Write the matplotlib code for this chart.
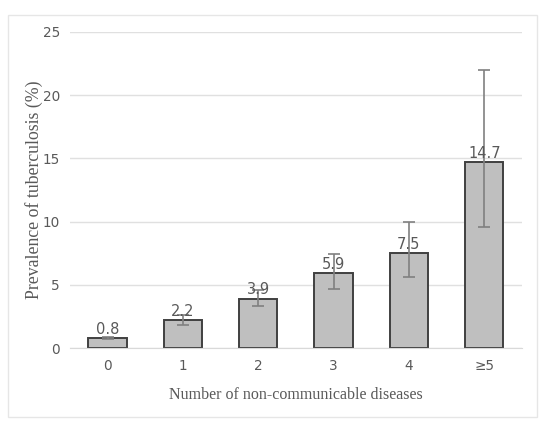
import matplotlib.pyplot as plt
from matplotlib.patches import Rectangle

# Prevalence of TB by number of NCDs
categories = ['0', '1', '2', '3', '4', '≥5']
prevalence = [0.8, 2.2, 3.9, 5.9, 7.5, 14.7]
ci_low = [0.7, 1.8, 3.3, 4.7, 5.6, 9.6]
ci_high = [0.9, 2.6, 4.6, 7.4, 10.0, 22.0]

err_lo = [p - lo for p, lo in zip(prevalence, ci_low)]
err_hi = [hi - p for p, hi in zip(prevalence, ci_high)]

fig = plt.figure(figsize=(5.5, 4.26), dpi=100)
fig.patches.append(Rectangle((0.0145, 0.021), 0.9615, 0.944, transform=fig.transFigure,
                             fill=False, edgecolor='#e6e6e6', linewidth=1))
ax = fig.add_axes([0.127, 0.183, 0.822, 0.742])

x = range(len(categories))
ax.bar(x, prevalence, width=0.51, color='#bfbfbf', edgecolor='#404040', linewidth=1.4, zorder=2)
ax.errorbar(x, prevalence, yerr=[err_lo, err_hi], fmt='none', ecolor='#808080',
            elinewidth=1.2, capsize=4, capthick=1.2, zorder=3)

for i, p in enumerate(prevalence):
    ax.text(i, p + 0.1, f'{p}', ha='center', va='bottom', fontsize=10.5, color='#595959', zorder=4)

ax.set_xlim(-0.5, len(categories) - 0.5)
ax.set_ylim(0, 25)
ax.set_yticks([0, 5, 10, 15, 20, 25])
ax.set_xticks(list(x))
ax.set_xticklabels(categories)
ax.yaxis.grid(True, color='#e0e0e0', linewidth=1)
ax.set_axisbelow(True)
for s in ['top', 'right', 'left']:
    ax.spines[s].set_visible(False)
ax.spines['bottom'].set_color('#d9d9d9')
ax.tick_params(axis='both', length=0, labelsize=9.8, labelcolor='#595959')
ax.tick_params(axis='y', pad=7)
ax.tick_params(axis='x', pad=8)

ax.set_xlabel('Number of non-communicable diseases', family='Liberation Serif', fontsize=11.5,
              color='#595959', labelpad=10)
ax.set_ylabel('Prevalence of tuberculosis (%)', family='Liberation Serif', fontsize=12.8,
              color='#595959', labelpad=0)

fig.savefig('out.png', dpi=100)
